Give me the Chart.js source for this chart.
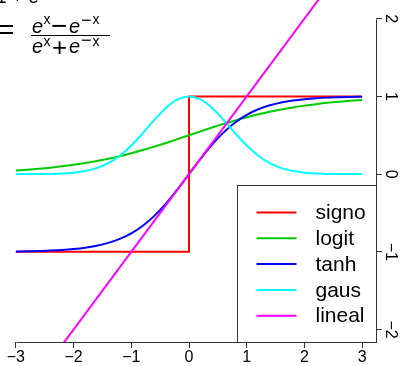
<!DOCTYPE html>
<html>
<head>
<meta charset="utf-8">
<script src="https://cdn.jsdelivr.net/npm/chart.js@4.4.1/dist/chart.umd.min.js"></script>
<style>
  body { margin: 0; background: #fff; }
  #wrap { position: relative; width: 400px; height: 366px; overflow: hidden; }
  #formula { position: absolute; left: 0; top: 0; font-family: "Liberation Sans", Arial, sans-serif; color: #000; white-space: nowrap; }
  #formula span { position: absolute; line-height: 1; }
</style>
</head>
<body>
<div id="wrap">
  <canvas id="myChart" width="400" height="366"></canvas>
  <div id="formula"></div>
</div>
<script>
// valores
const xs = [-3, -2.8, -2.6, -2.4, -2.2, -2, -1.8, -1.6, -1.4, -1.2, -1, -0.8, -0.6, -0.4, -0.2, 0,
  0.2, 0.4, 0.6, 0.8, 1, 1.2, 1.4, 1.6, 1.8, 2, 2.2, 2.4, 2.6, 2.8, 3];
const logitY = [0.047, 0.057, 0.069, 0.083, 0.100, 0.119, 0.142, 0.168, 0.198, 0.231, 0.269, 0.310, 0.354, 0.401, 0.450, 0.500,
  0.550, 0.599, 0.646, 0.690, 0.731, 0.769, 0.802, 0.832, 0.858, 0.881, 0.900, 0.917, 0.931, 0.943, 0.953];
const tanhY = [-0.995, -0.993, -0.989, -0.984, -0.976, -0.964, -0.947, -0.922, -0.885, -0.834, -0.762, -0.664, -0.537, -0.380, -0.197, 0,
  0.197, 0.380, 0.537, 0.664, 0.762, 0.834, 0.885, 0.922, 0.947, 0.964, 0.976, 0.984, 0.989, 0.993, 0.995];
const gausY = [0.000, 0.000, 0.001, 0.003, 0.008, 0.018, 0.039, 0.077, 0.141, 0.237, 0.368, 0.527, 0.698, 0.852, 0.961, 1,
  0.961, 0.852, 0.698, 0.527, 0.368, 0.237, 0.141, 0.077, 0.039, 0.018, 0.008, 0.003, 0.001, 0.000, 0.000];
const signoX = [-3, 0, 0, 3];
const signoY = [-1, -1, 1, 1];
const linealX = [-3, 3];
const linealY = [-3, 3];

const labels = ['signo', 'logit', 'tanh', 'gaus', 'lineal'];
const colors = ['#FF0000', '#00CD00', '#0000FF', '#00FFFF', '#FF00FF'];
const xTicks = [-3, -2, -1, 0, 1, 2, 3];
const yTicks = [-2, -1, 0, 1, 2];

function pts(xv, yv) {
  return xv.map((x, i) => ({ x: x, y: yv[i] }));
}

function fmt(v) {
  return v < 0 ? '\u2212' + Math.abs(v) : String(v);
}

// formula de la esquina (texto recortado arriba)
const formulaBox = document.getElementById('formula');
function piece(txt, left, base, size, italic) {
  const s = document.createElement('span');
  s.textContent = txt;
  s.style.left = left + 'px';
  s.style.top = (base - 0.8465 * size) + 'px';
  s.style.fontSize = size + 'px';
  if (italic) s.style.fontStyle = 'italic';
  formulaBox.appendChild(s);
}
piece('1 + e', -4, 3, 19, false);
piece('=', -2, 39.7, 28, false);
// numerador
piece('e', 32, 33, 20, true);
piece('x', 43.5, 24, 14, false);
piece('\u2212', 51, 35.4, 28, false);
piece('e', 69, 33, 20, true);
piece('\u2212', 81, 26.3, 18, false);
piece('x', 92.5, 24, 14, false);
// denominador
piece('e', 32, 53, 20, true);
piece('x', 43.5, 46, 14, false);
piece('+', 52, 56.3, 26, false);
piece('e', 69, 53, 20, true);
piece('\u2212', 81, 46.3, 18, false);
piece('x', 92.5, 46, 14, false);
const bar = document.createElement('span');
bar.style.cssText = 'left:31px; top:35px; width:79px; height:1px; background:#000';
formulaBox.appendChild(bar);

const series = [pts(signoX, signoY), pts(xs, logitY), pts(xs, tanhY), pts(xs, gausY), pts(linealX, linealY)];

const datasets = series.map((d, i) => ({
  label: labels[i],
  data: d,
  borderColor: colors[i],
  backgroundColor: colors[i],
  borderWidth: 2,
  pointRadius: 0,
  showLine: true,
  fill: false,
  tension: (i === 0 || i === 4) ? 0 : 0.4,
  cubicInterpolationMode: (i === 0 || i === 4) ? 'default' : 'monotone',
  order: 5 - i
}));

// ejes al estilo R y leyenda
const rAxes = {
  id: 'rAxes',
  afterDraw(chart) {
    const ctx = chart.ctx;
    const sx = chart.scales.x, sy = chart.scales.y;
    const area = chart.chartArea;
    ctx.save();
    ctx.strokeStyle = '#333';
    ctx.lineWidth = 1;
    ctx.beginPath();
    const by = Math.round(area.bottom) + 0.5;
    ctx.moveTo(Math.round(sx.getPixelForValue(xTicks[0])) + 0.5, by);
    ctx.lineTo(Math.round(sx.getPixelForValue(xTicks[xTicks.length - 1])) + 0.5, by);
    const rx = Math.round(area.right) + 0.5;
    ctx.moveTo(rx, Math.round(sy.getPixelForValue(yTicks[yTicks.length - 1])) + 0.5);
    ctx.lineTo(rx, Math.round(sy.getPixelForValue(yTicks[0])) + 0.5);
    ctx.stroke();

    // etiquetas del eje derecho, giradas
    ctx.fillStyle = '#000';
    ctx.font = '16px "Liberation Sans", Arial, sans-serif';
    ctx.textAlign = 'center';
    ctx.textBaseline = 'middle';
    yTicks.forEach(v => {
      const py = sy.getPixelForValue(v);
      ctx.save();
      ctx.translate(area.right + 14, py);
      ctx.rotate(Math.PI / 2);
      ctx.fillText(fmt(v), 0, 0);
      ctx.restore();
    });

    // leyenda
    const bw = 139, bh = 157;
    const bx = Math.round(area.right) - bw + 0.5;
    const bt = Math.round(area.bottom) - bh + 0.5;
    ctx.fillStyle = '#fff';
    ctx.fillRect(bx, bt, bw, bh);
    ctx.strokeStyle = '#333';
    ctx.strokeRect(bx, bt, bw, bh);
    ctx.font = '21px "Liberation Sans", Arial, sans-serif';
    ctx.textAlign = 'left';
    ctx.textBaseline = 'middle';
    chart.data.datasets.forEach((ds, i) => {
      const ly = bt + 27 + i * 25.8;
      ctx.strokeStyle = ds.borderColor;
      ctx.lineWidth = 2;
      ctx.beginPath();
      ctx.moveTo(bx + 19, ly);
      ctx.lineTo(bx + 59, ly);
      ctx.stroke();
      ctx.fillStyle = '#000';
      ctx.fillText(ds.label, bx + 78, ly + 1);
    });
    ctx.restore();
  }
};

new Chart(document.getElementById('myChart').getContext('2d'), {
  type: 'scatter',
  data: { datasets: datasets },
  options: {
    responsive: false,
    animation: false,
    layout: { padding: { left: 2, top: 0, right: 0, bottom: 0 } },
    plugins: { legend: { display: false }, tooltip: { enabled: false } },
    scales: {
      x: {
        type: 'linear',
        position: 'bottom',
        min: -3.24,
        max: 3.24,
        afterBuildTicks: s => { s.ticks = xTicks.map(v => ({ value: v })); },
        afterFit: s => { s.height = 24; },
        ticks: {
          color: '#000',
          font: { family: '"Liberation Sans", Arial, sans-serif', size: 16 },
          padding: 0,
          maxRotation: 0,
          autoSkip: false,
          callback: v => fmt(v)
        },
        grid: { drawOnChartArea: false, drawTicks: true, tickLength: 6, color: '#333' },
        border: { display: false }
      },
      y: {
        type: 'linear',
        position: 'right',
        min: -2.16,
        max: 2.24,
        afterBuildTicks: s => { s.ticks = yTicks.map(v => ({ value: v })); },
        afterFit: s => { s.width = 24; },
        ticks: { display: false },
        grid: { drawOnChartArea: false, drawTicks: true, tickLength: 6, color: '#333' },
        border: { display: false }
      }
    }
  },
  plugins: [rAxes]
});
</script>
</body>
</html>
